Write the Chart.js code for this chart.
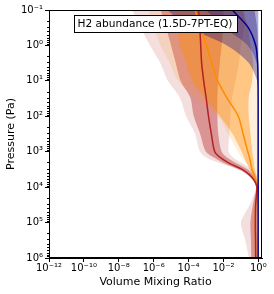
<!DOCTYPE html>
<html>
<head>
<meta charset="utf-8">
<script src="https://cdn.jsdelivr.net/npm/chart.js@4.4.1/dist/chart.umd.min.js"></script>
<style>
  html, body { margin: 0; padding: 0; background: #fff; }
</style>
</head>
<body>
<canvas id="myChart" width="274" height="294"></canvas>
<script>
// pressure levels (Pa), top of atmosphere first
const pressure = [0.1, 0.3, 1, 3, 10, 30, 100, 300, 1000, 1500, 2200, 3200, 4500, 6500, 1e4, 3e4, 1e5, 3e5, 1e6];

// H2 volume mixing ratio, median profiles
const redMedian    = [3.8e-4, 4.4e-4, 5.0e-4, 5.6e-4, 7.4e-4, 1.02e-3, 1.4e-3, 2.0e-3, 3.2e-3, 7.1e-3, 0.025, 0.126, 0.316, 0.603, 0.832, 0.708, 0.676, 0.692, 0.708];
const orangeMedian = [2.4e-4, 5.0e-4, 1.07e-3, 2.1e-3, 4.7e-3, 0.0158, 0.071, 0.132, 0.251, 0.316, 0.372, 0.437, 0.575, 0.724, 0.851, 0.708, 0.676, 0.692, 0.708];
const blueMedian   = [0.032, 0.25, 0.71, 0.91, 0.966, 0.977, 0.98, 0.98, 0.98, 0.98, 0.98, 0.98, 0.98, 0.98, 0.98, 0.98, 0.98, 0.98, 0.98];

// spread envelopes (inner = 1 sigma, outer = 2 sigma)
const redOuterLo = [5.8e-8, 1.7e-7, 6.2e-7, 2.3e-6, 6.6e-6, 3.2e-5, 7.2e-5, 2.3e-4, 4.6e-4, 1.15e-3, 8.3e-3, 0.069, 0.257, 0.501, 0.741, 0.339, 0.102, 0.174, 0.295];
const redOuterHi = [0.158, 0.158, 0.1, 0.079, 0.05, 0.0316, 0.025, 0.0224, 0.02, 0.04, 0.132, 0.437, 0.759, 0.933, 0.99, 0.99, 0.99, 0.99, 0.99];
const redInnerLo = [2.5e-6, 5e-6, 1e-5, 1.8e-5, 3.5e-5, 1.26e-4, 2e-4, 4.5e-4, 1e-3, 3.2e-3, 0.0126, 0.079, 0.24, 0.501, 0.759, 0.501, 0.355, 0.38, 0.398];
const redInnerHi = [0.01, 0.01, 0.0079, 0.0063, 0.005, 0.0045, 0.0045, 0.005, 0.0079, 0.0178, 0.063, 0.251, 0.501, 0.794, 0.955, 0.933, 0.933, 0.933, 0.933];

const orangeOuterLo = [5e-7, 1e-6, 2.5e-6, 7.9e-6, 2.5e-5, 2.5e-4, 5e-3, 0.0178, 0.069, 0.117, 0.224, 0.38, 0.562, 0.741, 0.891, 0.69, 0.66, 0.67, 0.69];
const orangeOuterHi = [0.63, 0.79, 0.89, 0.955, 0.977, 0.977, 0.977, 0.977, 0.977, 0.977, 0.977, 0.977, 0.977, 0.977, 0.977, 0.73, 0.69, 0.71, 0.73];
const orangeInnerLo = [1.6e-5, 2.2e-5, 3.2e-5, 7.1e-5, 1.6e-4, 8.9e-4, 6.3e-3, 0.0316, 0.112, 0.158, 0.224, 0.316, 0.447, 0.631, 0.813, 0.69, 0.66, 0.67, 0.69];
const orangeInnerHi = [0.126, 0.251, 0.355, 0.501, 0.447, 0.282, 0.282, 0.355, 0.447, 0.501, 0.562, 0.631, 0.759, 0.871, 0.933, 0.73, 0.69, 0.71, 0.73];

const blueOuterLo = [6e-6, 9.3e-5, 0.016, 0.26, 0.85, 0.955, 0.966, 0.966, 0.966, 0.966, 0.966, 0.966, 0.966, 0.966, 0.966, 0.966, 0.966, 0.966, 0.966];
const blueOuterHi = [1, 1, 1, 1, 1, 1, 1, 1, 1, 1, 1, 1, 1, 1, 1, 1, 1, 1, 1];
const blueInnerLo = [1e-3, 0.01, 0.25, 0.79, 0.93, 0.96, 0.977, 0.977, 0.977, 0.977, 0.977, 0.977, 0.977, 0.977, 0.977, 0.977, 0.977, 0.977, 0.977];
const blueInnerHi = [0.6, 0.85, 0.97, 0.99, 0.995, 0.995, 0.995, 0.995, 0.995, 0.995, 0.995, 0.995, 0.995, 0.995, 0.995, 0.995, 0.995, 0.995, 0.995];

// axis ticks
const xTicks = [1e-12, 1e-10, 1e-8, 1e-6, 1e-4, 1e-2, 1];
const xTickLabels = ['10⁻¹²', '10⁻¹⁰', '10⁻⁸', '10⁻⁶', '10⁻⁴', '10⁻²', '10⁰'];
const yTicks = [0.1, 1, 10, 100, 1e3, 1e4, 1e5, 1e6];
const yTickLabels = ['10⁻¹', '10⁰', '10¹', '10²', '10³', '10⁴', '10⁵', '10⁶'];

const titleText = 'H2 abundance (1.5D-7PT-EQ)';

Chart.defaults.font.family = 'DejaVu Sans';
Chart.defaults.color = '#000';

function pts(vals) {
    return vals.map((v, i) => ({ x: v, y: pressure[i] }));
}

function band(lo, hi, color, order) {
    return [
        { data: pts(lo), borderWidth: 0, borderColor: 'transparent', pointRadius: 0, fill: false, order: order },
        { data: pts(hi), borderWidth: 0, borderColor: 'transparent', pointRadius: 0, fill: '-1', backgroundColor: color, order: order }
    ];
}

function profile(vals, color, order) {
    return { data: pts(vals), borderColor: color, borderWidth: 1.5, pointRadius: 0, fill: false, order: order };
}

const datasets = [
    ...band(redOuterLo, redOuterHi, 'rgba(178,34,34,0.15)', 10),
    ...band(redInnerLo, redInnerHi, 'rgba(178,34,34,0.4)', 9),
    ...band(orangeOuterLo, orangeOuterHi, 'rgba(255,140,0,0.15)', 8),
    ...band(orangeInnerLo, orangeInnerHi, 'rgba(255,140,0,0.4)', 7),
    ...band(blueOuterLo, blueOuterHi, 'rgba(0,0,139,0.33)', 6),
    ...band(blueInnerLo, blueInnerHi, 'rgba(0,0,139,0.28)', 5),
    profile(orangeMedian, '#ff8c00', 3),
    profile(redMedian, '#b22222', 2),
    profile(blueMedian, '#00008b', 1)
];

const extras = {
    id: 'extras',
    afterDatasetsDraw(chart) {
        const ctx = chart.ctx;
        ctx.save();
        // text box
        ctx.font = '10.6px "DejaVu Sans"';
        const w = Math.round(ctx.measureText(titleText).width + 8);
        const cx = 155, cy = 24;
        const bx = Math.round(cx - w / 2) + 0.5;
        ctx.fillStyle = '#fff';
        ctx.fillRect(bx, 15.5, w, 17);
        ctx.strokeStyle = '#000';
        ctx.lineWidth = 1;
        ctx.strokeRect(bx, 15.5, w, 17);
        ctx.fillStyle = '#000';
        ctx.textAlign = 'center';
        ctx.textBaseline = 'middle';
        ctx.fillText(titleText, cx, cy + 0.5);
        ctx.restore();
    },
    afterDraw(chart) {
        const ctx = chart.ctx;
        const a = chart.chartArea;
        const y = chart.scales.y;
        ctx.save();
        ctx.strokeStyle = '#000';
        ctx.lineWidth = 1;
        ctx.strokeRect(a.left + 0.5, a.top + 0.5, a.right - a.left - 1, a.bottom - a.top - 1);
        // minor ticks on the pressure axis
        ctx.beginPath();
        for (let i = 0; i < yTicks.length - 1; i++) {
            for (let k = 2; k < 10; k++) {
                const py = Math.round(y.getPixelForValue(yTicks[i] * k)) + 0.5;
                ctx.moveTo(a.left - 2, py);
                ctx.lineTo(a.left, py);
            }
        }
        ctx.stroke();
        ctx.restore();
    }
};

new Chart(document.getElementById('myChart'), {
    type: 'line',
    data: { datasets: datasets },
    options: {
        responsive: false,
        animation: false,
        indexAxis: 'y',
        layout: { padding: { top: 10, right: 12, left: 0, bottom: 0 } },
        plugins: {
            legend: { display: false },
            tooltip: { enabled: false }
        },
        elements: { line: { tension: 0.3 } },
        scales: {
            x: {
                type: 'logarithmic',
                min: 1e-12,
                max: 1.63,
                afterBuildTicks: s => { s.ticks = xTicks.map(v => ({ value: v })); },
                afterFit: s => { s.height = 36; },
                ticks: {
                    autoSkip: false,
                    maxRotation: 0,
                    padding: 0,
                    font: { size: 10 },
                    callback: (v, i) => xTickLabels[i]
                },
                grid: { drawOnChartArea: false, tickLength: 4, color: '#000' },
                border: { color: '#000' },
                title: {
                    display: true,
                    text: 'Volume Mixing Ratio',
                    font: { size: 11 },
                    padding: { top: 0, bottom: 5 }
                }
            },
            y: {
                type: 'logarithmic',
                reverse: true,
                min: 0.1,
                max: 1e6,
                afterBuildTicks: s => { s.ticks = yTicks.map(v => ({ value: v })); },
                afterFit: s => { s.width = 49; },
                ticks: {
                    autoSkip: false,
                    padding: 2,
                    font: { size: 10 },
                    callback: (v, i) => yTickLabels[i]
                },
                grid: { drawOnChartArea: false, tickLength: 4, color: '#000' },
                border: { color: '#000' },
                title: {
                    display: true,
                    text: 'Pressure (Pa)',
                    font: { size: 11 },
                    padding: { top: 5, bottom: 0 }
                }
            }
        }
    },
    plugins: [extras]
});
</script>
</body>
</html>
